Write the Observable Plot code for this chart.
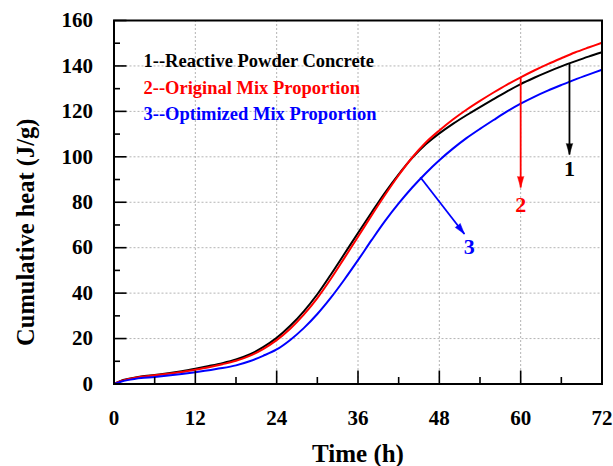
<!DOCTYPE html>
<html><head><meta charset="utf-8">
<script src="https://cdn.jsdelivr.net/npm/d3@7"></script>
<script src="https://cdn.jsdelivr.net/npm/@observablehq/plot@0.6"></script>
<style>body{margin:0;background:#fff;} #chart svg{display:block;}</style>
</head><body><div id="chart"></div>
<script>
// ---- data ----
const time = [0,1,2,3,4,6,8,10,12,14,16,18,20,22,24,26,28,30,32,34,36,38,40,42,44,46,48,50,52,54,56,58,60,62,64,66,68,70,72];
const rpc = [0,1.4,2.2,2.8,3.3,4.0,4.7,5.6,6.7,7.9,9.2,10.8,13.0,16.2,20.3,25.6,32.0,39.5,48.2,57.3,66.5,75.5,84.3,92.3,99.5,105.5,110.3,114.5,118.3,121.9,125.4,128.8,132.0,134.8,137.4,139.8,142.0,144.1,146.0];
const original = [0,1.3,2.1,2.7,3.2,3.8,4.5,5.3,6.3,7.4,8.7,10.2,12.4,15.4,19.3,24.3,30.5,37.8,46.3,55.5,64.8,74.2,83.3,91.9,99.7,106.3,111.6,116.4,120.7,124.6,128.3,131.8,135.0,138.0,140.8,143.4,145.9,148.1,150.2];
const optimized = [0,1.0,1.7,2.2,2.6,3.1,3.7,4.4,5.2,6.1,7.0,8.2,10.0,12.4,15.2,19.4,24.6,30.8,38.0,46.0,54.5,63.3,71.8,79.5,86.5,92.8,98.5,103.6,108.2,112.3,116.2,120.0,123.4,126.4,129.1,131.6,134.0,136.2,138.3];
const seriesNames = ["1--Reactive Powder Concrete","2--Original Mix Proportion","3--Optimized Mix Proportion"];
const seriesColors = ["#000000","#ff0000","#0000ff"];
const arrowLabels = ["1","2","3"];
const arrowX1 = [67.2, 60.0, 45.2];
const arrowY1 = [141.0, 135.0, 91.0];
const arrowX2 = [67.2, 60.0, 51.7];
const arrowY2 = [101.0, 86.5, 66.0];
const labelX = [67.2, 60.0, 52.4];
const labelY = [94.5, 79.0, 60.5];
const xMajor = [0,12,24,36,48,60,72];
const xMinor = [6,18,30,42,54,66];
const yMajor = [0,20,40,60,80,100,120,140,160];
const yMinor = [10,30,50,70,90,110,130,150];

// ---- layout ----
const W = 613, H = 466, mL = 113.5, mR = 11.5, mT = 20, mB = 82.5;
const kx = (W - mL - mR) / 72, ky = (H - mT - mB) / 160;
const font = "'Liberation Serif','Times New Roman',serif";

const allSeries = [rpc, original, optimized];
const lineData = allSeries.map((vals, i) => time.map((t, j) => ({t, v: vals[j], s: seriesNames[i]})));
const arrows = arrowLabels.map((l, i) => ({
  label: l, color: seriesColors[i],
  x1: arrowX1[i], y1: arrowY1[i], x2: arrowX2[i], y2: arrowY2[i],
  lx: labelX[i], ly: labelY[i]
}));
// rotation of arrowheads: degrees clockwise from "up" in screen space
arrows.forEach(a => { a.rot = Math.atan2((a.x2-a.x1)*kx, (a.y2-a.y1)*ky) * 180/Math.PI; });

const chart = Plot.plot({
  width: W, height: H,
  marginLeft: mL, marginRight: mR, marginTop: mT, marginBottom: mB,
  style: {fontFamily: font, fontWeight: "bold", fontSize: "21px", color: "#000", background: "#fff"},
  x: {domain: [0, 72], nice: false},
  y: {domain: [0, 160], nice: false},
  marks: [
    Plot.gridX(xMajor.slice(1, -1), {stroke: "#b4b4b4", strokeOpacity: 1, strokeDasharray: "2,2", strokeWidth: 1}),
    Plot.gridY(yMajor.slice(1, -1), {stroke: "#b4b4b4", strokeOpacity: 1, strokeDasharray: "2,2", strokeWidth: 1}),
    ...lineData.map((d, i) => Plot.line(d, {x: "t", y: "v", stroke: seriesColors[i], strokeWidth: 2, curve: "catmull-rom"})),
    Plot.link(arrows, {x1: "x1", y1: "y1", x2: "x2", y2: "y2", stroke: "color", strokeWidth: 1.8}),
    Plot.vector(arrows, {x: "x2", y: "y2", rotate: "rot", length: 11, r: 3.2, shape: "spike", anchor: "end", fill: "color", stroke: "color", strokeWidth: 0.5}),
    Plot.text(arrows, {x: "lx", y: "ly", text: "label", fill: "color", fontSize: 22, fontWeight: "bold"}),
    ...seriesNames.map((n, i) => Plot.text([n], {frameAnchor: "top-left", text: d => d, fill: seriesColors[i], fontSize: 18.5, fontWeight: "bold", textAnchor: "start", dx: 29.5, dy: 33.3 + i * 26.7})),
    Plot.axisX(xMajor, {tickSize: -13, tickFormat: () => "", strokeWidth: 1.6}),
    Plot.axisX(xMinor, {tickSize: -6.5, tickFormat: () => "", strokeWidth: 1.6}),
    Plot.axisY(yMajor, {tickSize: -13, tickFormat: () => "", strokeWidth: 1.6}),
    Plot.axisY(yMinor, {tickSize: -6.5, tickFormat: () => "", strokeWidth: 1.6}),
    Plot.axisX(xMajor, {tickSize: 0, tickPadding: 26, fontSize: 21, label: null}),
    Plot.axisY(yMajor, {tickSize: 0, tickPadding: 21, fontSize: 21, label: null}),
    Plot.text(["Time (h)"], {frameAnchor: "bottom", text: d => d, textAnchor: "middle", fontSize: 25, fontWeight: "bold", dy: 78}),
    Plot.text(["Cumulative heat (J/g)"], {frameAnchor: "left", text: d => d, textAnchor: "middle", lineAnchor: "middle", rotate: -90, fontSize: 24.5, fontWeight: "bold", dx: -88, dy: 30}),
    Plot.frame({stroke: "#000", strokeWidth: 2})
  ]
});
document.getElementById("chart").appendChild(chart);
</script>
</body></html>
